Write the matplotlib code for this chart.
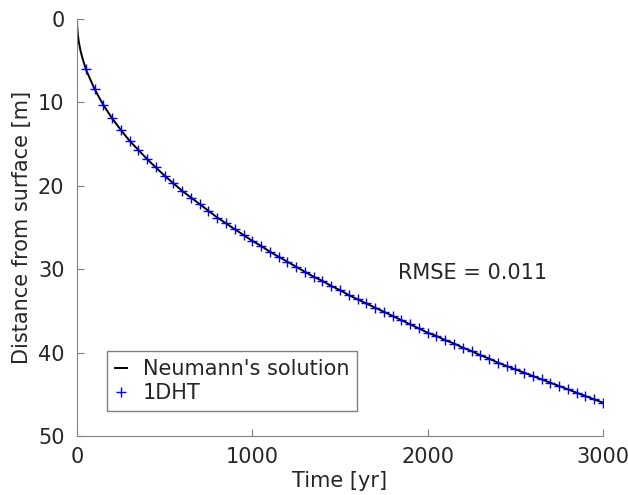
import numpy as np
import matplotlib
matplotlib.use('Agg')
import matplotlib.pyplot as plt

# 1DHT model output (every 50 yr)
time_1dht = np.arange(50, 3001, 50)
depth_1dht = [6.0, 8.4, 10.3, 11.9, 13.3, 14.6, 15.7, 16.8, 17.8, 18.8,
              19.7, 20.6, 21.4, 22.2, 23.0, 23.8, 24.5, 25.2, 25.9, 26.6,
              27.2, 27.9, 28.5, 29.1, 29.7, 30.3, 30.9, 31.4, 32.0, 32.5,
              33.1, 33.6, 34.1, 34.6, 35.1, 35.6, 36.1, 36.6, 37.1, 37.6,
              38.0, 38.5, 38.9, 39.4, 39.8, 40.3, 40.7, 41.2, 41.6, 42.0,
              42.4, 42.8, 43.2, 43.6, 44.0, 44.4, 44.8, 45.2, 45.6, 46.0]

# Neumann's solution near the surface, then same curve as above
time_near = [0, 1, 5, 10, 20, 30, 40]
depth_near = [0.0, 0.84, 1.9, 2.7, 3.8, 4.6, 5.3]
time_neumann = np.concatenate([time_near, time_1dht])
depth_neumann = np.concatenate([depth_near, depth_1dht])

rmse = 0.011

fs = 15
plt.rcParams['font.family'] = 'DejaVu Sans'
plt.rcParams['font.size'] = fs
txt = '#262626'
grey = '#808080'

fig = plt.figure(figsize=(6.28, 4.95), dpi=100)
ax = fig.add_axes([0.1226, 0.119, 0.8376, 0.8426])

ax.plot(time_neumann, depth_neumann, color='black', lw=1.4, label="Neumann's solution")
ax.plot(time_1dht, depth_1dht, ls='none', marker='+', color='blue', ms=6.5, mew=1.0, label='1DHT')

ax.set_xlim(0, 3000)
ax.set_ylim(50, 0)
ax.set_xticks([0, 1000, 2000, 3000])
ax.set_yticks([0, 10, 20, 30, 40, 50])
ax.spines['top'].set_visible(False)
ax.spines['right'].set_visible(False)
for s in ['left', 'bottom']:
    ax.spines[s].set_color(grey)
ax.tick_params(direction='in', length=5, color=grey, labelcolor=txt, labelsize=fs)
ax.tick_params(axis='x', pad=7.5)
ax.tick_params(axis='y', pad=9)

ax.set_xlabel('Time [yr]', color=txt, fontsize=fs, labelpad=3)
ax.set_ylabel('Distance from surface [m]', color=txt, fontsize=fs, labelpad=4)

ax.text(1828, 30.5, f'RMSE = {rmse}', color=txt, fontsize=fs, va='center', ha='left')

leg = ax.legend(loc='lower left', bbox_to_anchor=(0.057, 0.06), borderaxespad=0,
                frameon=True, fancybox=False, edgecolor=grey, framealpha=1,
                handlelength=0.6, handletextpad=0.75, borderpad=0.38,
                labelspacing=0.2, fontsize=fs)
leg.get_frame().set_linewidth(1.0)
for t in leg.get_texts():
    t.set_color(txt)

fig.savefig('out.png', dpi=100)
